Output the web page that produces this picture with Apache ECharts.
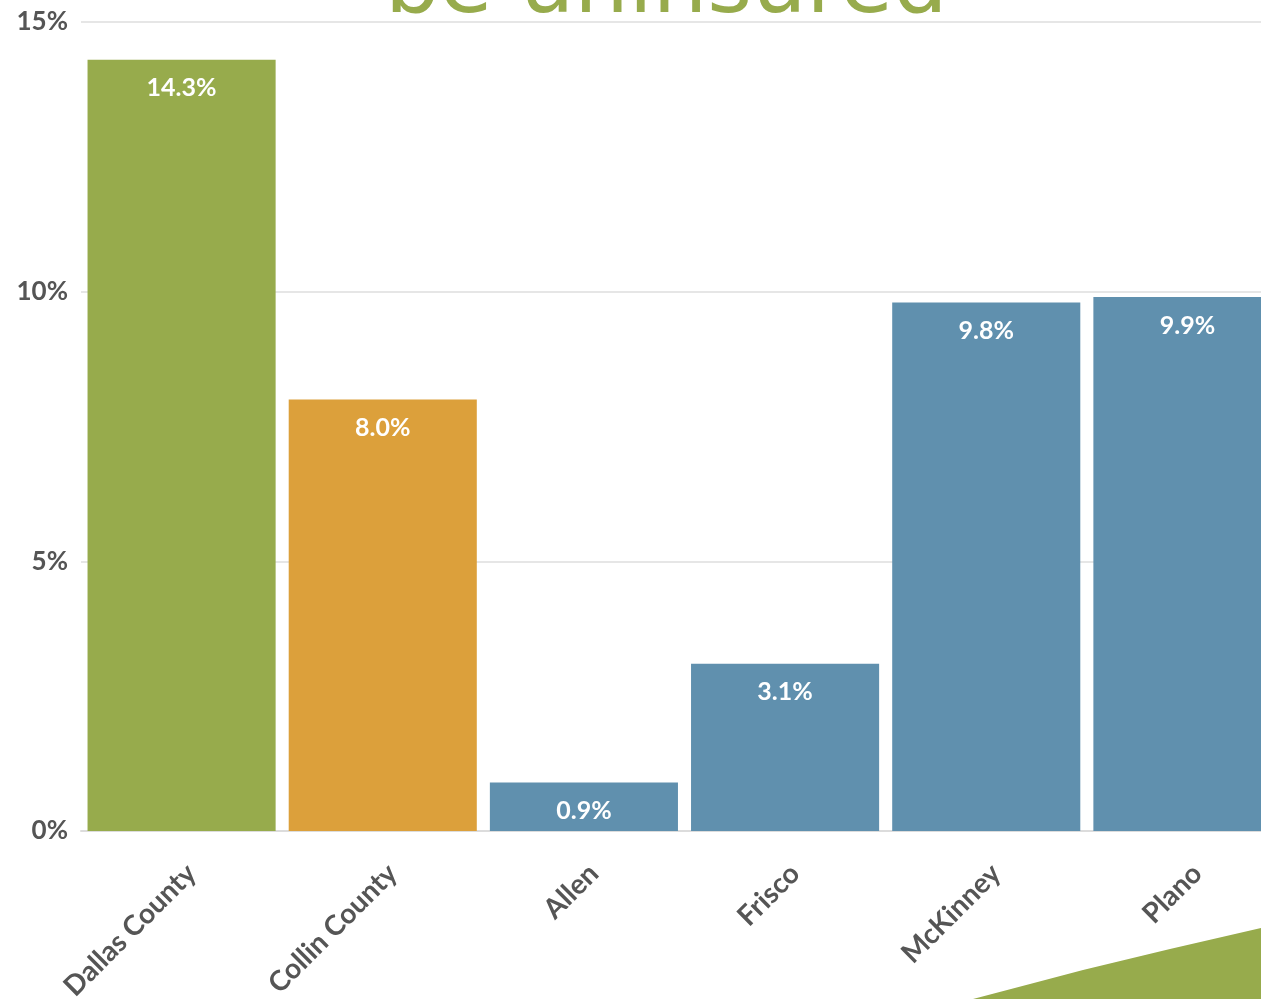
<!DOCTYPE html>
<html>
<head>
<meta charset="utf-8">
<script src="https://cdn.jsdelivr.net/npm/echarts@6/dist/echarts.min.js"></script>
<style>html,body{margin:0;padding:0;background:#fff}#c{width:1261px;height:999px}</style>
</head>
<body>
<div id="c"></div>
<script>
const categories = ['Dallas County', 'Collin County', 'Allen', 'Frisco', 'McKinney', 'Plano'];
const uninsuredPct = [14.3, 8.0, 0.9, 3.1, 9.8, 9.9];
const barColors = ['#97AB4C', '#DCA03B', '#6090AE', '#6090AE', '#6090AE', '#6090AE'];
const yTicks = [0, 5, 10, 15];
const titleText = 'be uninsured';

const chart = echarts.init(document.getElementById('c'));
chart.setOption({
  animation: false,
  backgroundColor: '#ffffff',
  grid: { left: 81, top: 22, right: -27, bottom: 168, containLabel: false, outerBoundsMode: 'none' },
  xAxis: {
    type: 'category',
    data: categories,
    axisTick: { show: false },
    axisLine: { show: true, lineStyle: { color: '#dcdcdc', width: 2 } },
    axisLabel: {
      rotate: 45, margin: 28, interval: 0, verticalAlign: 'top',
      fontFamily: 'Lato', fontWeight: 'bold', fontSize: 28, color: '#555555'
    }
  },
  yAxis: {
    type: 'value', min: 0, max: 15, interval: 5,
    axisLine: { show: false }, axisTick: { show: false },
    splitLine: { lineStyle: { color: '#e6e6e6', width: 2 } },
    axisLabel: {
      formatter: v => yTicks.includes(v) ? v + '%' : '',
      margin: 13,
      fontFamily: 'Lato', fontWeight: 'bold', fontSize: 26, color: '#555555'
    }
  },
  series: [{
    type: 'bar',
    data: uninsuredPct.map((v, i) => ({ value: v, itemStyle: { color: barColors[i] } })),
    barCategoryGap: '6.5%',
    label: {
      show: true, position: 'insideTop', distance: 16,
      formatter: p => p.value.toFixed(1) + '%',
      fontFamily: 'Lato', fontWeight: 'bold', fontSize: 25, color: '#ffffff'
    }
  }],
  graphic: [
    {
      type: 'text', x: 385, y: 33, z: 10,
      style: { text: titleText, fontFamily: 'DejaVu Sans', fontSize: 86, fill: '#97AB4C', verticalAlign: 'bottom' }
    },
    {
      type: 'polygon', z: 5,
      shape: { points: [[973, 999], [1030, 984], [1083, 970], [1170, 949], [1261, 928], [1261, 999]] },
      style: { fill: '#97AB4C' }
    }
  ]
});
</script>
</body>
</html>
